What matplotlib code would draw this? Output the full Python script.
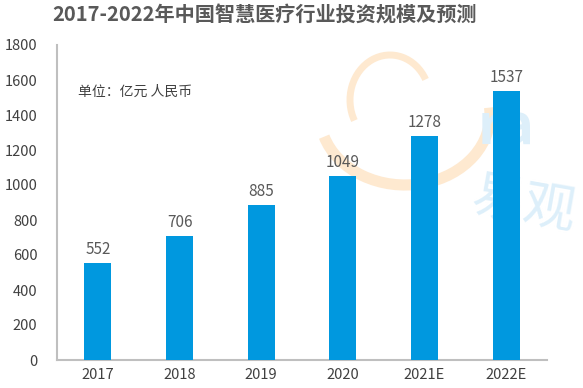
import matplotlib
matplotlib.use("Agg")
import matplotlib.pyplot as plt
from matplotlib.patches import Arc

plt.rcParams['font.family'] = ['Noto Sans CJK SC', 'DejaVu Sans']

categories = ["2017", "2018", "2019", "2020", "2021E", "2022E"]
values = [552, 706, 885, 1049, 1278, 1537]
yticks = [0, 200, 400, 600, 800, 1000, 1200, 1400, 1600, 1800]
title = "2017-2022年中国智慧医疗行业投资规模及预测"
unit_note = "单位：亿元 人民币"

fig = plt.figure(figsize=(5.83, 3.88), dpi=100)

# background watermark axes (decorative)
bg = fig.add_axes([0, 0, 1, 1], zorder=-1)
bg.set_xlim(0, 583)
bg.set_ylim(388, 0)
bg.axis('off')
bg.add_patch(Arc((405, 115), 170, 140, angle=0, theta1=-5, theta2=165,
                 color='#FEE9D0', lw=8))
bg.add_patch(Arc((390, 100), 80, 90, angle=0, theta1=150, theta2=330,
                 color='#FEE9D0', lw=5))
bg.text(478, 128, "ra", fontsize=40, color='#DDEFFA', fontweight='bold',
        ha='left', va='center')
bg.text(468, 205, "易观", fontsize=38, color='#DDEFFA', ha='left', va='center', rotation=-10)

ax = fig.add_axes([57/583, 1-360/388, 490/583, 315/388], zorder=1)
x = range(len(categories))
ax.bar(x, values, width=0.33, color='#0098DF', zorder=3)
for xi, v in zip(x, values):
    ax.text(xi, v + 30, str(v), ha='center', va='bottom', fontsize=11, color='#595959', zorder=4)

ax.set_xlim(-0.5, len(categories) - 0.5)
ax.set_ylim(0, 1800)
ax.set_yticks(yticks)
ax.set_yticklabels([str(t) for t in yticks], fontsize=10.5, color='#404040')
ax.set_xticks(list(x))
ax.set_xticklabels(categories, fontsize=10.5, color='#404040')
ax.tick_params(axis='both', length=0)
ax.tick_params(axis='y', pad=14)
ax.tick_params(axis='x', pad=6)
for s in ['top', 'right']:
    ax.spines[s].set_visible(False)
for s in ['left', 'bottom']:
    ax.spines[s].set_color('#BFBFBF')
    ax.spines[s].set_linewidth(1.5)
ax.patch.set_alpha(0)

fig.text(265/583, 1-15/388, title, fontsize=14.5, fontweight='bold', color='#595959',
         ha='center', va='center')
fig.text(78/583, 1-92/388, unit_note, fontsize=10, color='#404040', ha='left', va='center')

fig.savefig("out.png", dpi=100)
